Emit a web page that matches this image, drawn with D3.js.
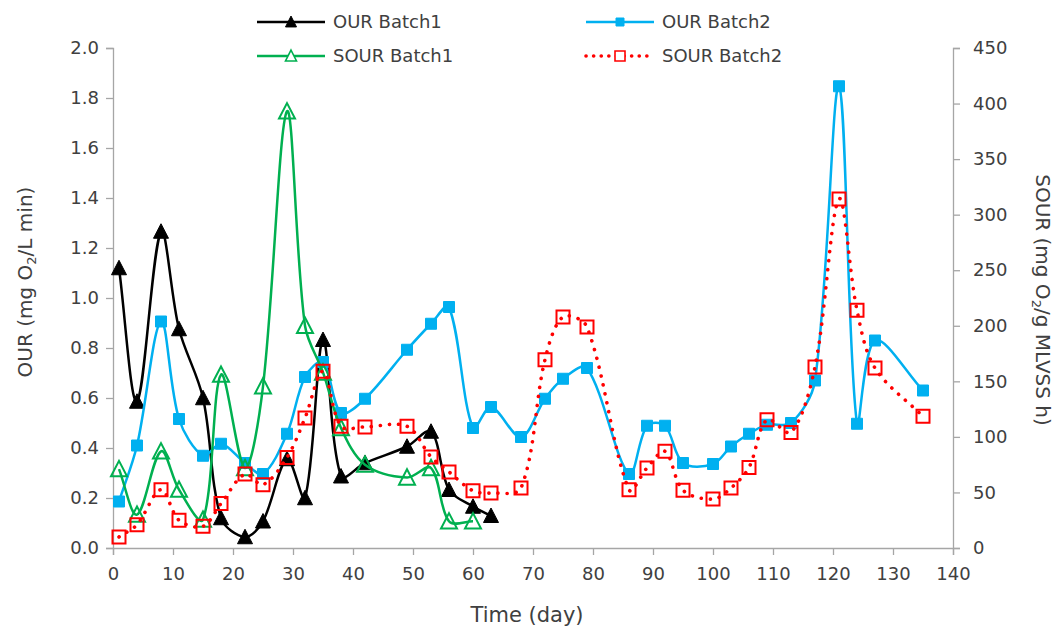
<!DOCTYPE html>
<html>
<head>
<meta charset="utf-8">
<script src="https://cdn.jsdelivr.net/npm/d3@7"></script>
<style>
  body { margin: 0; background: #fff; }
  svg text { font-family: "DejaVu Sans", sans-serif; fill: #404040; }
</style>
</head>
<body>
<div id="chart"></div>
<script>
// Data
const daysB1 = [1, 4, 8, 11, 15, 18, 22, 25, 29, 32, 35, 38, 42, 49, 53, 56, 60, 63];
const ourBatch1 = [1.12, 0.586, 1.266, 0.876, 0.60, 0.12, 0.044, 0.107, 0.356, 0.20, 0.833, 0.287, 0.34, 0.406, 0.466, 0.233, 0.166, 0.129];

const daysSB1 = [1, 4, 8, 11, 15, 18, 22, 25, 29, 32, 35, 38, 42, 49, 53, 56, 60];
const sourBatch1 = [71, 30, 87, 52.5, 25.5, 156, 72, 145.5, 393, 200, 158, 108, 75, 63.5, 72, 24, 24];

const daysB2 = [1, 4, 8, 11, 15, 18, 22, 25, 29, 32, 35, 38, 42, 49, 53, 56, 60, 63, 68, 72, 75, 79, 86, 89, 92, 95, 100, 103, 106, 109, 113, 117, 121, 124, 127, 135];
const ourBatch2 = [0.186, 0.41, 0.906, 0.516, 0.369, 0.417, 0.34, 0.296, 0.457, 0.684, 0.744, 0.54, 0.597, 0.793, 0.897, 0.964, 0.48, 0.564, 0.444, 0.597, 0.677, 0.72, 0.296, 0.489, 0.489, 0.34, 0.336, 0.406, 0.457, 0.493, 0.5, 0.67, 1.847, 0.497, 0.83, 0.63];
const sourBatch2 = [10, 21, 52.5, 25, 19.5, 40, 66.5, 57, 81.5, 117, 159, 109.5, 109, 109.5, 82, 68.5, 51.5, 49.5, 54, 169.5, 208, 199, 52.5, 72, 87, 52, 44, 54, 72.5, 115.5, 104, 163, 314, 214, 162, 118.5];

const xTicks = [0, 10, 20, 30, 40, 50, 60, 70, 80, 90, 100, 110, 120, 130, 140];
const leftTicks = [0, 0.2, 0.4, 0.6, 0.8, 1.0, 1.2, 1.4, 1.6, 1.8, 2.0];
const rightTicks = [0, 50, 100, 150, 200, 250, 300, 350, 400, 450];

const width = 1060, height = 631;
const plot = { left: 113, right: 953, top: 48, bottom: 548 };
const axisColor = '#a6a6a6';

const svg = d3.select('#chart').append('svg')
    .attr('width', width)
    .attr('height', height);

const x = d3.scaleLinear().domain([0, 140]).range([plot.left, plot.right]);
const yL = d3.scaleLinear().domain([0, 2]).range([plot.bottom, plot.top]);
const yR = d3.scaleLinear().domain([0, 450]).range([plot.bottom, plot.top]);

// Axes
function styleAxis(g) {
    g.selectAll('path').attr('stroke', axisColor).attr('stroke-width', 1.3);
    g.selectAll('line').attr('stroke', axisColor).attr('stroke-width', 1.3);
    g.selectAll('text').attr('font-size', 18).attr('fill', '#404040')
        .style('font-family', '"DejaVu Sans", sans-serif');
}

svg.append('g')
    .attr('transform', `translate(0,${plot.bottom})`)
    .call(d3.axisBottom(x).tickValues(xTicks).tickFormat(d3.format('d')).tickSizeOuter(0).tickSize(7).tickPadding(12))
    .call(styleAxis);

svg.append('g')
    .attr('transform', `translate(${plot.left},0)`)
    .call(d3.axisLeft(yL).tickValues(leftTicks).tickFormat(d3.format('.1f')).tickSizeOuter(7).tickSize(7).tickPadding(7))
    .call(styleAxis);

svg.append('g')
    .attr('transform', `translate(${plot.right},0)`)
    .call(d3.axisRight(yR).tickValues(rightTicks).tickFormat(d3.format('d')).tickSizeOuter(7).tickSize(7).tickPadding(13))
    .call(styleAxis);

// Axis titles
svg.append('text')
    .attr('x', 527).attr('y', 622)
    .attr('text-anchor', 'middle')
    .attr('font-size', 21)
    .text('Time (day)');

const leftTitle = svg.append('text')
    .attr('transform', 'translate(32,282) rotate(-90)')
    .attr('text-anchor', 'middle')
    .attr('font-size', 20);
leftTitle.append('tspan').text('OUR (mg O');
leftTitle.append('tspan').attr('font-size', 13).attr('dy', 4).text('2');
leftTitle.append('tspan').attr('dy', -4).text('/L min)');

const rightTitle = svg.append('text')
    .attr('transform', 'translate(1036,300) rotate(90)')
    .attr('text-anchor', 'middle')
    .attr('font-size', 20);
rightTitle.append('tspan').text('SOUR (mg O');
rightTitle.append('tspan').attr('font-size', 13).attr('dy', 4).text('2');
rightTitle.append('tspan').attr('dy', -4).text('/g MLVSS h)');

// Marker shapes
function triangle(s) {
    const h = s * 0.9;
    return `M0,${-h / 2 - 1}L${s / 2},${h / 2}L${-s / 2},${h / 2}Z`;
}
function square(s) {
    return `M${-s / 2},${-s / 2}h${s}v${s}h${-s}Z`;
}

// Spreadsheet-style smoothed line: bezier whose handles are scaled by segment lengths
function smoothPath(p) {
    const dist = (a, b) => Math.hypot(b[0] - a[0], b[1] - a[1]);
    const k = 1 / 3;
    let d = `M${p[0][0]},${p[0][1]}`;
    for (let i = 0; i < p.length - 1; i++) {
        const p0 = p[Math.max(i - 1, 0)], p1 = p[i], p2 = p[i + 1], p3 = p[Math.min(i + 2, p.length - 1)];
        const d01 = dist(p0, p1), d12 = dist(p1, p2), d23 = dist(p2, p3);
        const f1 = d12 / ((d01 + d12) || 1) * k;
        const f2 = d12 / ((d12 + d23) || 1) * k;
        const c1 = [p1[0] + (p2[0] - p0[0]) * f1, p1[1] + (p2[1] - p0[1]) * f1];
        const c2 = [p2[0] - (p3[0] - p1[0]) * f2, p2[1] - (p3[1] - p1[1]) * f2];
        d += `C${c1[0]},${c1[1]},${c2[0]},${c2[1]},${p2[0]},${p2[1]}`;
    }
    return d;
}

const series = [
    { name: 'OUR Batch1', days: daysB1, values: ourBatch1, y: yL, color: '#000000', shape: 'tri', filled: true },
    { name: 'OUR Batch2', days: daysB2, values: ourBatch2, y: yL, color: '#00b0f0', shape: 'sq', filled: true },
    { name: 'SOUR Batch1', days: daysSB1, values: sourBatch1, y: yR, color: '#00b050', shape: 'tri', filled: false },
    { name: 'SOUR Batch2', days: daysB2, values: sourBatch2, y: yR, color: '#ff0000', shape: 'sq', filled: false, dotted: true }
];

series.forEach(s => {
    const pts = s.days.map((d, i) => [d, s.values[i]]);
    const px = pts.map(d => [x(d[0]), s.y(d[1])]);

    svg.append('path')
        .attr('fill', 'none')
        .attr('stroke', s.color)
        .attr('stroke-width', s.dotted ? 3.6 : 2.5)
        .attr('stroke-linecap', s.dotted ? 'round' : 'butt')
        .attr('stroke-dasharray', s.dotted ? '0.1 9' : null)
        .attr('d', smoothPath(px));

    svg.append('g').selectAll('path')
        .data(pts)
        .enter().append('path')
        .attr('transform', d => `translate(${x(d[0])},${s.y(d[1])})`)
        .attr('d', s.shape === 'tri' ? triangle(s.filled ? 15 : 16) : square(s.filled ? 11 : 13))
        .attr('fill', s.filled ? s.color : 'none')
        .attr('stroke', s.color)
        .attr('stroke-width', s.filled ? 1 : 2);
});

// Legend
const legendItems = [
    { s: series[0], lx: 257, ly: 22 },
    { s: series[1], lx: 586, ly: 22 },
    { s: series[2], lx: 257, ly: 56 },
    { s: series[3], lx: 586, ly: 56 }
];

const legend = svg.append('g');
legendItems.forEach(item => {
    const s = item.s;
    const g = legend.append('g').attr('transform', `translate(${item.lx},${item.ly})`);
    g.append('line')
        .attr('x1', 0).attr('x2', 68)
        .attr('stroke', s.color)
        .attr('stroke-width', s.dotted ? 3.6 : 2.5)
        .attr('stroke-linecap', s.dotted ? 'round' : 'butt')
        .attr('stroke-dasharray', s.dotted ? '0.1 7.5' : null);
    g.append('path')
        .attr('transform', 'translate(34,0)')
        .attr('d', s.shape === 'tri' ? triangle(11) : square(s.filled ? 8 : 10))
        .attr('fill', s.filled ? s.color : '#fff')
        .attr('stroke', s.color)
        .attr('stroke-width', s.filled ? 1 : 1.6);
    g.append('text')
        .attr('x', 76).attr('y', 0)
        .attr('dy', '0.35em')
        .attr('font-size', 18)
        .text(s.name);
});
</script>
</body>
</html>
